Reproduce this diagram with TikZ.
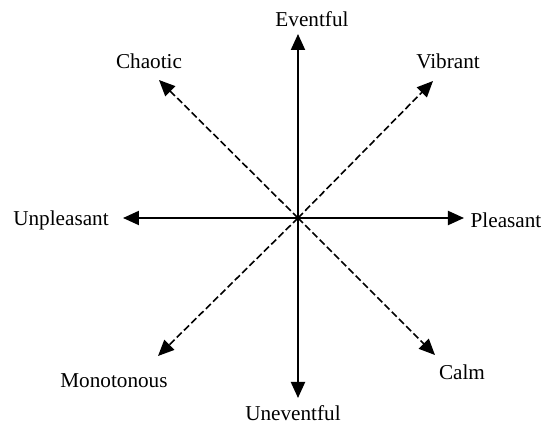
\documentclass[tikz,border=0pt]{standalone}
\usepackage{fontspec}
\setmainfont{Liberation Serif}
\usepackage{tikz}
\usetikzlibrary{arrows.meta, positioning}

\begin{document}
\begin{tikzpicture}[
    x=0.5pt, y=0.5pt,
    axis/.style={line width=1pt, -{Triangle[length=8pt, width=7pt]}},
    diag/.style={line width=0.8pt, dash pattern=on 3.5pt off 1.6pt, -{Triangle[length=8pt, width=7pt]}},
    lbl/.style={font=\fontsize{10.6}{12}\selectfont, inner sep=1pt}
]
    \useasboundingbox (-298,-205) rectangle (244,218);

    % Centre and arrow tips
    \coordinate (o) at (0,0);
    \coordinate (up) at (0,184);
    \coordinate (down) at (0,-180);
    \coordinate (left) at (-175,0);
    \coordinate (right) at (166,0);
    \coordinate (ul) at (-139,138);
    \coordinate (ur) at (135,137);
    \coordinate (ll) at (-140,-138);
    \coordinate (lr) at (137,-137);

    % Labels
    \node[lbl] (eventful) at (14,199) {Eventful};
    \node[lbl] (uneventful) at (-5,-195) {Uneventful};
    \node[lbl] (unpleasant) at (-237,-2) {Unpleasant};
    \node[lbl] (pleasant) at (208,-2) {Pleasant};
    \node[lbl] (chaotic) at (-149,157) {Chaotic};
    \node[lbl] (vibrant) at (150,157) {Vibrant};
    \node[lbl] (monotonous) at (-184,-163) {Monotonous};
    \node[lbl] (calm) at (164,-154) {Calm};

    % Main axes
    \draw[axis] (o) -- (up);
    \draw[axis] (o) -- (down);
    \draw[axis] (o) -- (left);
    \draw[axis] (o) -- (right);

    % Diagonals
    \draw[diag] (o) -- (ul);
    \draw[diag] (o) -- (ur);
    \draw[diag] (o) -- (ll);
    \draw[diag] (o) -- (lr);
\end{tikzpicture}
\end{document}
